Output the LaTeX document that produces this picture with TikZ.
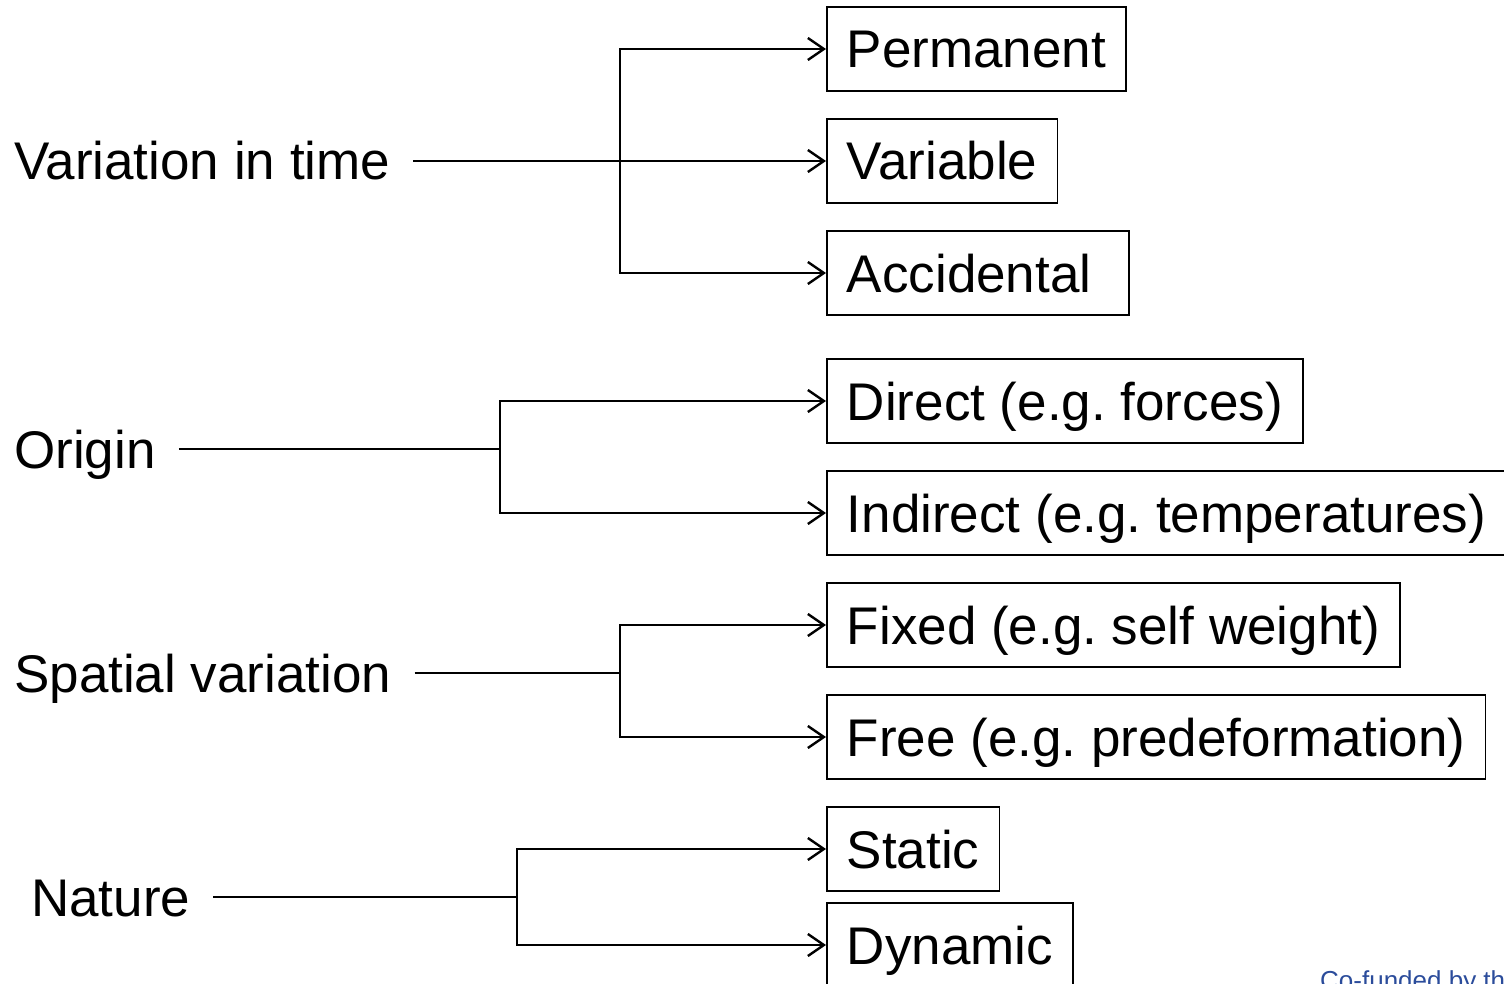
\documentclass[tikz,border=0pt]{standalone}
\usepackage{fontspec}
\setmainfont{Liberation Sans}
\usetikzlibrary{arrows.meta}
\definecolor{eublue}{HTML}{2B4C9B}
\frenchspacing
\begin{document}
\begin{tikzpicture}[x=1pt,y=-1pt,
  catbox/.style={draw,line width=1.8pt,anchor=west,inner xsep=20pt,minimum height=84pt,
    text height=38pt,text depth=0pt,font=\fontsize{53}{60}\selectfont},
  catlabel/.style={anchor=west,inner xsep=0pt,text height=38pt,text depth=0pt,
    font=\fontsize{53}{60}\selectfont},
  conn/.style={line width=2.8pt},
  arr/.style={line width=2.8pt,-{Straight Barb[length=16pt,width=22pt,line width=2.4pt]}},
  gap/.style={shorten <=23pt}]
\useasboundingbox (0,0) rectangle (1504,984);

% categories
\node[catlabel] (vt) at (14,161) {Variation in time};
\node[catlabel] (or) at (14,449) {Origin};
\node[catlabel] (sv) at (14,673) {Spatial variation};
\node[catlabel] (na) at (31,897) {Nature};

% boxes
\node[catbox] (perm) at (826,49) {Permanent};
\node[catbox] (var) at (826,161) {Variable};
\node[catbox,minimum width=302pt,text width=262pt] (acc) at (826,273) {Accidental};
\node[catbox] (dir) at (826,401) {Direct (e.g. forces)};
\node[catbox] (ind) at (826,513) {Indirect (e.g. temperatures)};
\node[catbox] (fix) at (826,625) {Fixed (e.g. self weight)};
\node[catbox] (free) at (826,737) {Free (e.g. predeformation)};
\node[catbox] (stat) at (826,849) {Static};
\node[catbox] (dyn) at (826,945) {Dynamic};

% junctions
\coordinate (j1) at (620,161);
\coordinate (j2) at (500,449);
\coordinate (j3) at (620,673);
\coordinate (j4) at (517,897);

\draw[conn,gap] (vt.east) -- (j1);
\draw[arr] (j1) |- (perm.west);
\draw[arr] (j1) -- (var.west);
\draw[arr] (j1) |- (acc.west);

\draw[conn,gap] (or.east) -- (j2);
\draw[arr] (j2) |- (dir.west);
\draw[arr] (j2) |- (ind.west);

\draw[conn,gap] (sv.east) -- (j3);
\draw[arr] (j3) |- (fix.west);
\draw[arr] (j3) |- (free.west);

\draw[conn,gap] (na.east) -- (j4);
\draw[arr] (j4) |- (stat.west);
\draw[arr] (j4) |- (dyn.west);

% footer (cut off at the page edge, as in the reference)
\node[anchor=base west,inner sep=0pt,text=eublue,font=\fontsize{26}{30}\selectfont] (cofund) at (1320,989) {Co-funded by the};
\end{tikzpicture}
\end{document}
